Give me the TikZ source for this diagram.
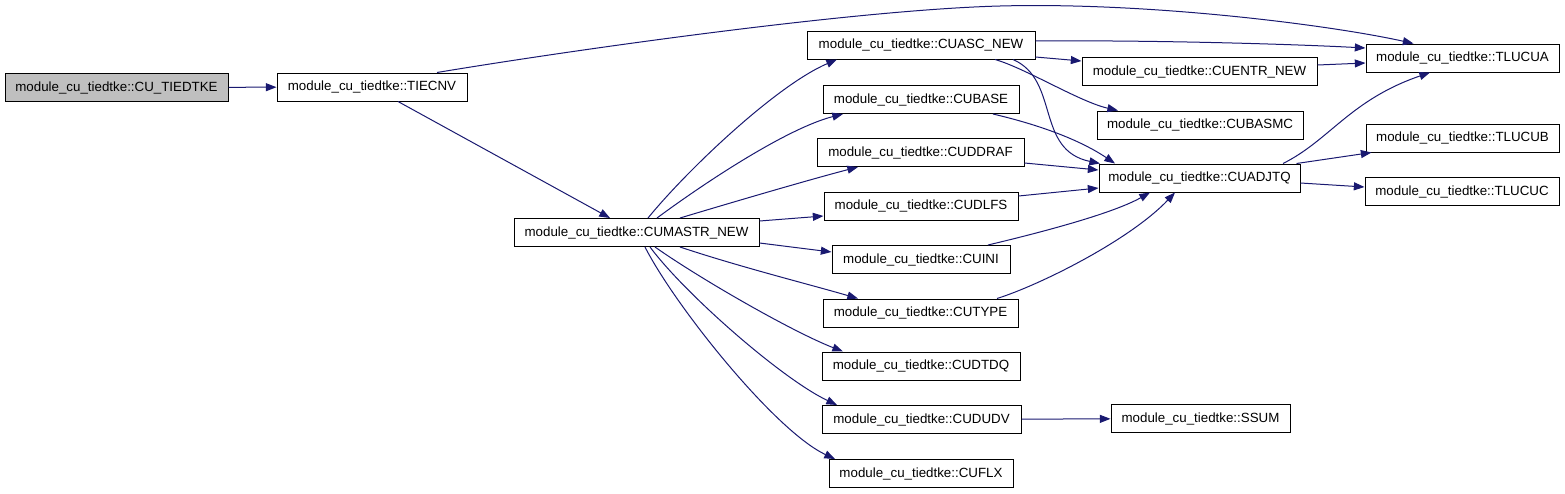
\documentclass[tikz,border=0pt]{standalone}
\usepackage{fontspec}
\setmainfont{Liberation Sans}
\usetikzlibrary{arrows.meta,calc}

\begin{document}
\begin{tikzpicture}[x=0.75pt, y=-0.75pt,
    fn/.style={draw=black, fill=white, line width=0.75pt, inner sep=0pt,
      minimum height=21pt, font=\fontsize{10}{12}\selectfont},
    bw/.style={minimum width=0.75pt*#1},
    call/.style={draw=midblue, line width=0.75pt,
      -{Triangle[length=8pt, width=6pt]}}]
  \definecolor{midblue}{HTML}{191970}
  % canvas: 1565 x 493 px
  \useasboundingbox (0,0) rectangle (1565,493);

  % caller chain
  \node[fn, bw=223, fill=black!25] (cutiedtke) at (116.5,87.5) {module\_cu\_tiedtke::CU\_TIEDTKE};
  \node[fn, bw=190] (tiecnv) at (372,87) {module\_cu\_tiedtke::TIECNV};
  \node[fn, bw=245] (cumastr) at (636.5,232.5) {module\_cu\_tiedtke::CUMASTR\_NEW};

  % routines called by CUMASTR_NEW
  \node[fn, bw=228] (cuasc) at (921,45) {module\_cu\_tiedtke::CUASC\_NEW};
  \node[fn, bw=196] (cubase) at (921,99.5) {module\_cu\_tiedtke::CUBASE};
  \node[fn, bw=207] (cuddraf) at (920.5,152.5) {module\_cu\_tiedtke::CUDDRAF};
  \node[fn, bw=194] (cudlfs) at (921,206) {module\_cu\_tiedtke::CUDLFS};
  \node[fn, bw=178] (cuini) at (921,259.5) {module\_cu\_tiedtke::CUINI};
  \node[fn, bw=195] (cutype) at (920.5,313) {module\_cu\_tiedtke::CUTYPE};
  \node[fn, bw=198] (cudtdq) at (921,366) {module\_cu\_tiedtke::CUDTDQ};
  \node[fn, bw=199] (cududv) at (921.5,419.5) {module\_cu\_tiedtke::CUDUDV};
  \node[fn, bw=184] (cuflx) at (921,473.5) {module\_cu\_tiedtke::CUFLX};

  % third level
  \node[fn, bw=235] (cuentr) at (1199.5,71.5) {module\_cu\_tiedtke::CUENTR\_NEW};
  \node[fn, bw=206] (cubasmc) at (1200,125) {module\_cu\_tiedtke::CUBASMC};
  \node[fn, bw=201] (cuadjtq) at (1199.5,178) {module\_cu\_tiedtke::CUADJTQ};
  \node[fn, bw=179] (ssum) at (1200.5,418.5) {module\_cu\_tiedtke::SSUM};

  % leaves
  \node[fn, bw=193] (tlucua) at (1462.5,58) {module\_cu\_tiedtke::TLUCUA};
  \node[fn, bw=193] (tlucub) at (1462.5,138) {module\_cu\_tiedtke::TLUCUB};
  \node[fn, bw=194] (tlucuc) at (1462,191.5) {module\_cu\_tiedtke::TLUCUC};

  % edges from the top
  \draw[call] (cutiedtke) -- (tiecnv);
  \draw[call] ($(tiecnv.north)+(65,0)$) .. controls (560,52) and (850,10) .. (1000,6)
    .. controls (1150,2) and (1330,25) .. ($(tlucua.north)+(-49,0)$);
  \draw[call] ($(tiecnv.south)+(26,0)$) -- ($(cumastr.north)+(-26.5,0)$);

  % CUMASTR_NEW fan-out
  \draw[call] ($(cumastr.north)+(11.5,0)$) .. controls (688,169) and (777,85) .. ($(cuasc.south)+(-84,0)$);
  \draw[call] ($(cumastr.north)+(20.5,0)$) .. controls (707,181) and (788,128) .. ($(cubase.south)+(-78,0)$);
  \draw[call] ($(cumastr.north)+(43.5,0)$) .. controls (730,203) and (808,180) .. ($(cuddraf.south)+(-62.5,0)$);
  \draw[call] ($(cumastr.east)+(0,-11.5)$) -- ($(cudlfs.west)+(0,10)$);
  \draw[call] ($(cumastr.east)+(0,10.5)$) -- ($(cuini.west)+(0,-7.5)$);
  \draw[call] ($(cumastr.south)+(43.5,0)$) .. controls (740,267) and (808,284) .. ($(cutype.north)+(-62.5,0)$);
  \draw[call] ($(cumastr.south)+(18.5,0)$) .. controls (702,280) and (793,332) .. ($(cudtdq.north)+(-78,0)$);
  \draw[call] ($(cumastr.south)+(13.5,0)$) .. controls (685,294) and (782,379) .. ($(cududv.north)+(-84.5,0)$);
  \draw[call] ($(cumastr.south)+(8.5,0)$) .. controls (675,306) and (775,431) .. ($(cuflx.north)+(-86,0)$);

  % CUASC_NEW
  \draw[call] ($(cuasc.east)+(0,-4)$) .. controls (1150,40) and (1290,44) .. ($(tlucua.west)+(0,-10)$);
  \draw[call] ($(cuasc.east)+(0,12)$) -- ($(cuentr.west)+(0,-10.5)$);
  \draw[call] ($(cuasc.south)+(74,0)$) .. controls (1025,68) and (1080,102) .. ($(cubasmc.north)+(-82,0)$);
  \draw[call] ($(cuasc.south)+(92,0)$) .. controls (1060,80) and (1035,150) .. ($(cuadjtq.north)+(-99.5,0)$);
  \draw[call] ($(cuentr.east)+(0,-6.5)$) -- ($(tlucua.west)+(0,5)$);

  % into CUADJTQ
  \draw[call] ($(cubase.south)+(72,0)$) .. controls (1040,125) and (1080,140) .. ($(cuadjtq.north)+(-84.5,0)$);
  \draw[call] ($(cuddraf.east)+(0,10.5)$) -- ($(cuadjtq.west)+(0,-8)$);
  \draw[call] ($(cudlfs.east)+(0,-10)$) -- ($(cuadjtq.west)+(0,10)$);
  \draw[call] ($(cuini.north)+(67,0)$) .. controls (1030,235) and (1110,215) .. ($(cuadjtq.south)+(-49.5,0)$);
  \draw[call] ($(cutype.north)+(76.5,0)$) .. controls (1040,285) and (1130,240) .. ($(cuadjtq.south)+(-24.5,0)$);

  % out of CUADJTQ
  \draw[call] ($(cuadjtq.north)+(83.5,0)$) .. controls (1330,140) and (1350,100) .. ($(tlucua.south)+(-32.5,0)$);
  \draw[call] ($(cuadjtq.north east)+(-4,0)$) -- ($(tlucub.south west)+(6,0)$);
  \draw[call] ($(cuadjtq.east)+(0,5)$) -- ($(tlucuc.west)+(0,-4.5)$);

  \draw[call] (cududv) -- (ssum);
\end{tikzpicture}
\end{document}
